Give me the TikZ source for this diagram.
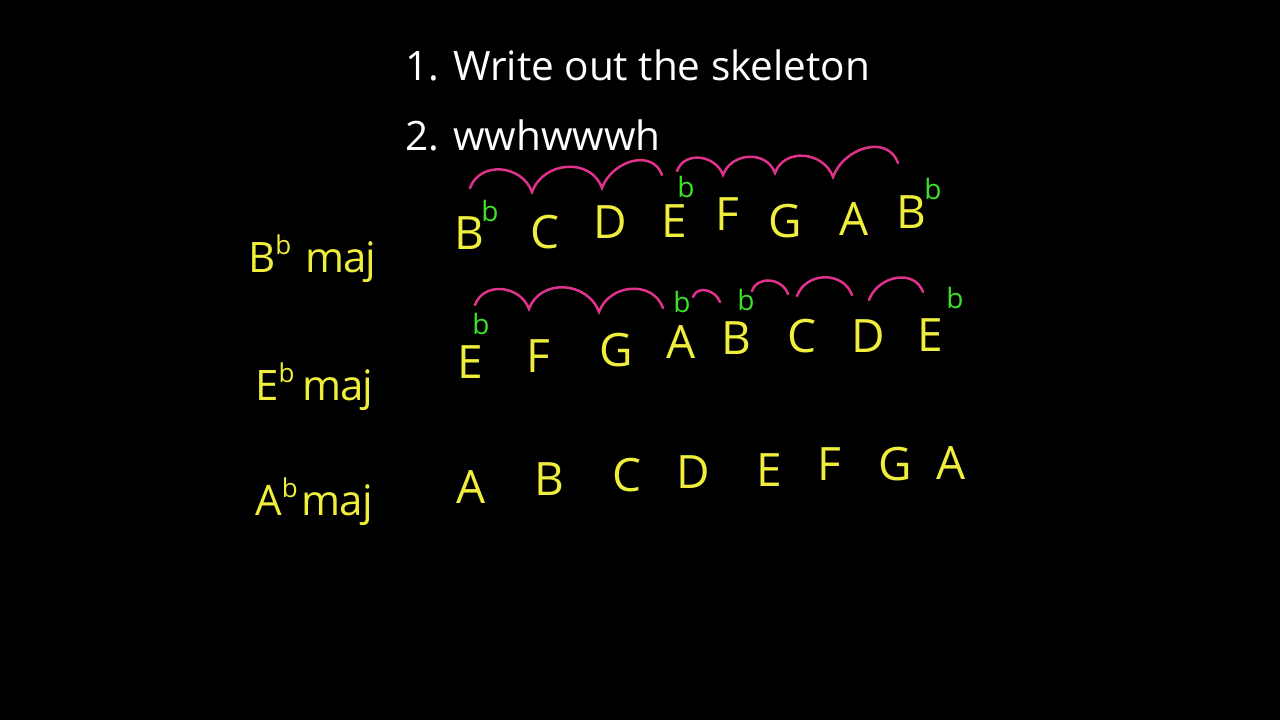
\documentclass[tikz,border=0pt]{standalone}
\usepackage{fontspec}
\setmainfont{Open Sans}
\definecolor{chalkyellow}{RGB}{240,238,60}
\definecolor{chalkpink}{RGB}{222,50,140}
\definecolor{chalkgreen}{RGB}{60,225,40}
\newcommand{\keyflat}{\raisebox{0.42em}{\fontsize{26}{26}\selectfont b}}
\begin{document}
\begin{tikzpicture}[x=1pt,y=-1pt,
		note/.style={text=chalkyellow, font=\fontsize{46}{46}\selectfont, inner sep=0pt},
		flat/.style={text=chalkgreen, font=\fontsize{28}{28}\selectfont, inner sep=0pt},
		keylabel/.style={text=chalkyellow, font=\fontsize{42}{42}\selectfont, inner sep=0pt, anchor=base west},
		step line/.style={text=white, font=\fontsize{40.5}{40.5}\selectfont, inner sep=0pt, anchor=base west},
		hump/.style={chalkpink, line width=2.5pt, line cap=round, out=70, in=110, looseness=1.2}]
		\fill[black] (0,0) rectangle (1280,720);
		% the two steps
		\node[step line] (step1) at (405,80) {1. Write out the skeleton};
		\node[step line] (step2) at (405,150) {2. wwhwwwh};
		% key names
		\node[keylabel] (bbkey) at (248,272) {B\keyflat\hspace{14pt}m\kern-1pt a\kern-1pt j};
		\node[keylabel] (ebkey) at (255,400) {E\keyflat\hspace{8pt}m\kern-1pt a\kern-1pt j};
		\node[keylabel] (abkey) at (255,515) {A\keyflat\hspace{4pt}m\kern-1pt a\kern-1pt j};
		% B flat major
		\node[note] (bb1) at (469,233) {B};
		\node[note] (bb2) at (545,232) {C};
		\node[note] (bb3) at (610,222) {D};
		\node[note] (bb4) at (674,221) {E};
		\node[note] (bb5) at (727,214) {F};
		\node[note] (bb6) at (785,221) {G};
		\node[note] (bb7) at (854,219) {A};
		\node[note] (bb8) at (911,212) {B};
		\node[flat] (bbflat1) at (490,211) {b};
		\node[flat] (bbflat4) at (686,187) {b};
		\node[flat] (bbflat8) at (933,189) {b};
		\coordinate (bbj0) at (470,188);
		\coordinate (bbj1) at (532,192);
		\coordinate (bbj2) at (602,188);
		\coordinate (bbj3) at (662,175);
		\coordinate (bbj4) at (677,171);
		\coordinate (bbj5) at (723,175);
		\coordinate (bbj6) at (775,173);
		\coordinate (bbj7) at (833,177);
		\coordinate (bbj8) at (898,163);
		\draw[hump] (bbj0) to (bbj1) to (bbj2) to (bbj3);
		\draw[hump] (bbj4) to (bbj5) to (bbj6) to (bbj7) to (bbj8);
		% E flat major
		\node[note] (eb1) at (470,362) {E};
		\node[note] (eb2) at (538,356) {F};
		\node[note] (eb3) at (616,350) {G};
		\node[note] (eb4) at (681,342) {A};
		\node[note] (eb5) at (736,338) {B};
		\node[note] (eb6) at (802,336) {C};
		\node[note] (eb7) at (868,336) {D};
		\node[note] (eb8) at (930,335) {E};
		\node[flat] (ebflat1) at (481,324) {b};
		\node[flat] (ebflat4) at (682,302) {b};
		\node[flat] (ebflat5) at (746,300) {b};
		\node[flat] (ebflat8) at (955,298) {b};
		\coordinate (ebj0) at (475,305);
		\coordinate (ebj1) at (529,309);
		\coordinate (ebj2) at (599,312);
		\coordinate (ebj3) at (663,308);
		\coordinate (ebj4) at (693,297);
		\coordinate (ebj5) at (720,302);
		\coordinate (ebj6) at (752,291);
		\coordinate (ebj7) at (788,294);
		\coordinate (ebj8) at (797,296);
		\coordinate (ebj9) at (852,295);
		\coordinate (ebj10) at (869,300);
		\coordinate (ebj11) at (923,292);
		\draw[hump] (ebj0) to (ebj1) to (ebj2) to (ebj3);
		\draw[hump] (ebj4) to (ebj5);
		\draw[hump] (ebj6) to (ebj7);
		\draw[hump] (ebj8) to (ebj9);
		\draw[hump] (ebj10) to (ebj11);
		% A flat major
		\node[note] (ab1) at (471,487) {A};
		\node[note] (ab2) at (549,479) {B};
		\node[note] (ab3) at (627,475) {C};
		\node[note] (ab4) at (693,472) {D};
		\node[note] (ab5) at (769,470) {E};
		\node[note] (ab6) at (829,464) {F};
		\node[note] (ab7) at (895,464) {G};
		\node[note] (ab8) at (951,463) {A};
		\end{tikzpicture}
\end{document}
